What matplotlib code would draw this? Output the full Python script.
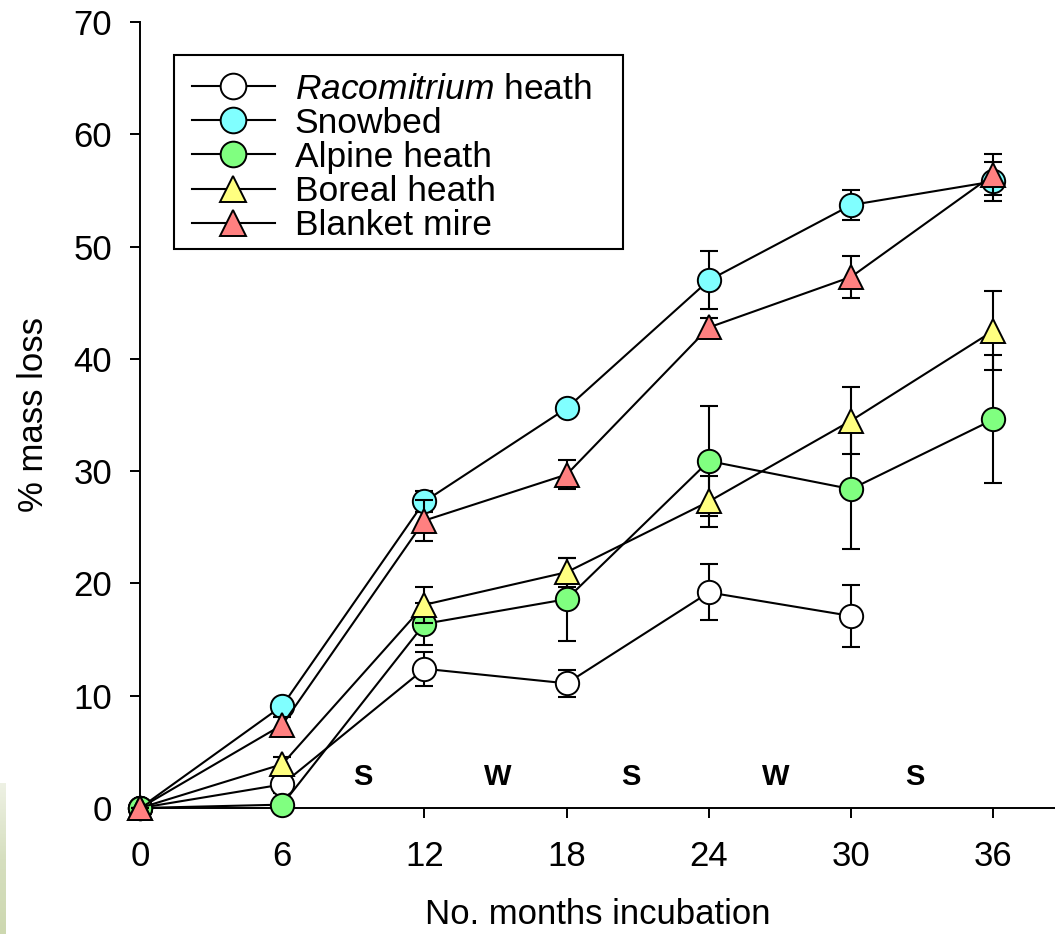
import numpy as np
import matplotlib
matplotlib.use('Agg')
import matplotlib.pyplot as plt
from matplotlib.patches import Rectangle

plt.rcParams['font.family'] = 'Liberation Sans'
plt.rcParams['mathtext.fontset'] = 'custom'
plt.rcParams['mathtext.it'] = 'Liberation Sans:italic'
plt.rcParams['mathtext.rm'] = 'Liberation Sans'

# datos
months = [0, 6, 12, 18, 24, 30, 36]
rac = [0, 2.1, 12.4, 11.1, 19.2, 17.1]
rac_err = [0, 0.8, 1.5, 1.2, 2.5, 2.8]
snow = [0, 9.1, 27.3, 35.6, 47.0, 53.7, 55.8]
snow_err = [0, 0.5, 0.9, 0.3, 2.6, 1.3, 1.7]
alp = [0, 0.3, 16.4, 18.6, 30.9, 28.4, 34.6]
alp_err = [0, 0.2, 1.9, 3.7, 4.9, 5.3, 5.7]
bor = [0, 3.9, 18.1, 21.0, 27.3, 34.5, 42.5]
bor_err = [0, 0.6, 1.6, 1.3, 2.3, 3.0, 3.5]
bla = [0, 7.4, 25.6, 29.7, 42.8, 47.3, 56.4]
bla_err = [0, 0.7, 1.8, 1.3, 0.8, 1.9, 1.8]

labels = [r'$\it{Racomitrium}$ heath', 'Snowbed', 'Alpine heath', 'Boreal heath', 'Blanket mire']
seasons = ['S', 'W', 'S', 'W', 'S']
season_x = [9.4, 15.1, 20.7, 26.8, 32.7]

series = [(rac, rac_err, 'o', 'white'),
          (snow, snow_err, 'o', '#80ffff'),
          (alp, alp_err, 'o', '#80ff80'),
          (bor, bor_err, '^', '#ffff80'),
          (bla, bla_err, '^', '#ff8080')]

fig = plt.figure(figsize=(10.55, 9.34), dpi=100)
ax = fig.add_axes([140/1055, 126/934, 915/1055, 786/934])

handles = []
for i, (y, e, m, c) in enumerate(series):
    x = months[:len(y)]
    z = 3 + i*0.1
    ax.errorbar(x, y, yerr=e, fmt='none', ecolor='black', elinewidth=1.5,
                capsize=6.8, capthick=1.5, zorder=z, clip_on=False)
    ms = 16.8 if m == 'o' else 17.5
    h, = ax.plot(x, y, '-', color='black', lw=1.5, marker=m, ms=ms,
                 mfc=c, mec='black', mew=1.4, zorder=z+0.05, clip_on=False)
    handles.append(h)

for s, xs in zip(seasons, season_x):
    ax.text(xs, 2.8, s, fontsize=21, fontweight='bold', ha='center', va='center')

ax.set_xlim(0, 38.6)
ax.set_ylim(0, 70)
ax.set_xticks(months)
ax.set_yticks(np.arange(0, 71, 10))
ax.spines['top'].set_visible(False)
ax.spines['right'].set_visible(False)
ax.spines['left'].set_linewidth(1.4)
ax.spines['bottom'].set_linewidth(1.4)
ax.tick_params(axis='both', direction='out', length=7.2, width=1.4, labelsize=25)
ax.tick_params(axis='y', pad=13)
ax.tick_params(axis='x', pad=16)
ax.set_xlabel('No. months incubation', fontsize=25, labelpad=18)
ax.set_ylabel('% mass loss', fontsize=25, labelpad=17)

leg = fig.legend(handles, labels, loc='upper left', bbox_to_anchor=(174/1055, 1-55/934),
                 borderaxespad=0, fontsize=25.5, frameon=False,
                 labelspacing=0.03, handlelength=2.35,
                 handletextpad=0.56, borderpad=0.5, markerscale=1.1)
# marco de la leyenda
fig.patches.append(Rectangle((174/1055, 1-249/934), 449/1055, 194/934,
                             transform=fig.transFigure, fill=False,
                             edgecolor='black', lw=1.5))

# franja verde de fondo
axg = fig.add_axes([0, 0, 6/1055, 151/934])
grad = np.linspace(0, 1, 100).reshape(-1, 1)
axg.imshow(grad, aspect='auto', cmap=matplotlib.colors.LinearSegmentedColormap.from_list(
    'g', ['#cdd8b0', '#d6dfbf', '#eef1e4']), origin='lower')
axg.axis('off')

fig.savefig('out.png', dpi=100)
